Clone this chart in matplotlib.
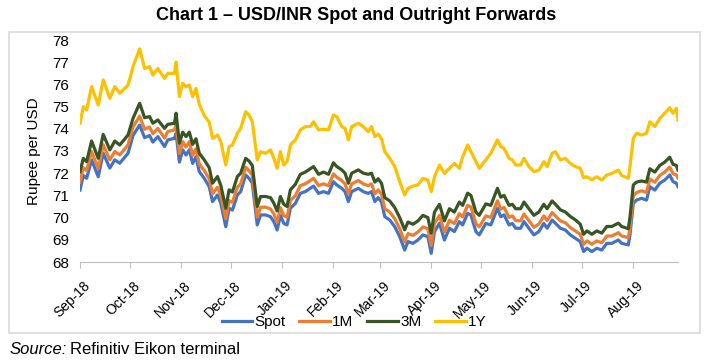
import matplotlib
matplotlib.use("Agg")
import matplotlib.pyplot as plt
import matplotlib.transforms as mtransforms
from matplotlib.patches import Rectangle
import pandas as pd

plt.rcParams['font.family'] = ['Liberation Sans', 'DejaVu Sans']

dates = ["2018-09-03","2018-09-05","2018-09-07","2018-09-10","2018-09-14","2018-09-17","2018-09-21","2018-09-24","2018-09-27",
 "2018-10-02","2018-10-05","2018-10-09","2018-10-12","2018-10-15","2018-10-17","2018-10-20","2018-10-24","2018-10-26","2018-10-30","2018-10-31",
 "2018-11-02","2018-11-04","2018-11-06","2018-11-08","2018-11-10","2018-11-12","2018-11-14","2018-11-17","2018-11-20","2018-11-22","2018-11-25","2018-11-27","2018-11-30",
 "2018-12-02","2018-12-04","2018-12-07","2018-12-09","2018-12-12","2018-12-14","2018-12-16","2018-12-19","2018-12-21","2018-12-24","2018-12-27","2018-12-29","2018-12-31",
 "2019-01-02","2019-01-04","2019-01-06","2019-01-08","2019-01-11","2019-01-14","2019-01-17","2019-01-20","2019-01-22","2019-01-25","2019-01-28","2019-01-31",
 "2019-02-03","2019-02-05","2019-02-08","2019-02-10","2019-02-12","2019-02-14","2019-02-18","2019-02-21","2019-02-24","2019-02-26","2019-02-28",
 "2019-03-02","2019-03-04","2019-03-06","2019-03-09","2019-03-12","2019-03-15","2019-03-18","2019-03-20","2019-03-23","2019-03-26","2019-03-29",
 "2019-04-01","2019-04-03","2019-04-05","2019-04-08","2019-04-11","2019-04-14","2019-04-17","2019-04-20","2019-04-22","2019-04-25","2019-04-27","2019-04-30",
 "2019-05-02","2019-05-06","2019-05-09","2019-05-13","2019-05-15","2019-05-17","2019-05-20","2019-05-22","2019-05-24","2019-05-27","2019-05-29",
 "2019-06-01","2019-06-04","2019-06-07","2019-06-10","2019-06-12","2019-06-15","2019-06-17","2019-06-20","2019-06-23","2019-06-26","2019-06-29",
 "2019-07-02","2019-07-04","2019-07-06","2019-07-09","2019-07-12","2019-07-15","2019-07-18","2019-07-21","2019-07-25","2019-07-27","2019-07-31",
 "2019-08-01","2019-08-03","2019-08-05","2019-08-08","2019-08-11","2019-08-13","2019-08-16","2019-08-19","2019-08-22","2019-08-25","2019-08-27","2019-08-29","2019-08-30"]

spot = [71.24,71.90,71.77,72.60,71.84,72.90,72.23,72.60,72.45,
 72.90,73.70,74.17,73.60,73.70,73.40,73.65,73.20,73.50,73.57,73.80,
 72.50,73.05,72.82,73.05,72.44,72.74,72.07,71.77,71.40,70.72,71.02,70.64,69.59,
 70.42,70.34,71.02,71.17,71.92,71.77,71.55,69.67,70.12,70.12,70.04,69.82,69.44,
 70.10,69.74,69.67,70.42,70.64,71.09,71.17,71.32,71.42,71.09,71.17,71.09,
 71.62,71.47,71.32,71.17,70.72,71.17,71.32,71.17,71.09,71.17,70.72,
 70.90,70.70,70.04,69.89,69.59,69.14,68.54,68.92,68.84,68.99,69.22,
 69.14,68.39,69.37,69.74,68.99,69.52,69.37,69.82,69.67,70.19,70.12,69.37,
 69.22,69.74,69.67,70.42,70.04,70.12,69.67,69.74,69.52,69.52,69.82,
 69.52,69.22,69.37,69.74,69.52,69.89,69.74,69.52,69.44,69.22,69.07,
 68.92,68.47,68.62,68.47,68.62,68.54,68.84,68.84,68.99,68.84,68.77,
 69.22,70.64,70.79,70.87,70.79,71.39,71.24,71.55,71.69,71.92,71.62,71.55,71.39]

m1 = [71.60,72.25,72.12,72.98,72.20,73.28,72.60,72.98,72.82,
 73.28,74.08,74.57,73.98,74.08,73.78,74.02,73.58,73.88,73.95,74.20,
 72.88,73.42,73.18,73.42,72.80,73.10,72.42,72.12,71.75,71.07,71.37,70.99,69.94,
 70.77,70.69,71.37,71.52,72.27,72.12,71.90,70.02,70.47,70.47,70.39,70.17,69.79,
 70.45,70.09,70.02,70.77,70.99,71.44,71.52,71.67,71.77,71.44,71.52,71.44,
 71.97,71.82,71.67,71.52,71.07,71.52,71.67,71.52,71.44,71.52,71.07,
 71.25,71.05,70.40,70.25,69.95,69.50,68.90,69.28,69.20,69.35,69.58,
 69.50,68.75,69.73,70.10,69.35,69.88,69.73,70.18,70.03,70.55,70.48,69.73,
 69.58,70.08,70.01,70.76,70.38,70.46,70.01,70.08,69.86,69.86,70.16,
 69.86,69.56,69.71,70.08,69.86,70.23,70.08,69.85,69.77,69.55,69.40,
 69.25,68.80,68.95,68.80,68.95,68.87,69.17,69.17,69.32,69.17,69.10,
 69.55,70.98,71.13,71.21,71.13,71.74,71.59,71.90,72.05,72.28,71.98,71.92,71.78]

m3 = [72.07,72.67,72.52,73.45,72.67,73.75,73.05,73.45,73.27,
 73.72,74.47,75.15,74.50,74.55,74.25,74.40,74.02,74.20,74.25,74.70,
 73.35,73.85,73.65,73.85,73.30,73.55,72.90,72.60,72.25,71.55,71.85,71.45,70.42,
 71.25,71.15,71.85,72.00,72.67,72.55,72.35,70.50,70.95,70.95,70.90,70.65,70.30,
 70.95,70.60,70.50,71.25,71.50,71.95,72.05,72.20,72.30,71.95,72.05,71.95,
 72.47,72.30,72.15,72.00,71.55,72.00,72.15,72.00,71.95,72.00,71.60,
 71.75,71.55,70.90,70.75,70.45,70.00,69.45,69.80,69.70,69.85,70.10,
 70.00,69.30,70.25,70.60,69.85,70.40,70.25,70.70,70.55,71.10,71.00,70.25,
 70.10,70.62,70.55,71.32,70.92,71.00,70.55,70.60,70.40,70.40,70.70,
 70.40,70.10,70.25,70.60,70.40,70.75,70.60,70.35,70.25,70.05,69.90,
 69.70,69.25,69.40,69.25,69.40,69.30,69.60,69.60,69.75,69.60,69.50,
 70.00,71.47,71.60,71.65,71.60,72.20,72.05,72.35,72.50,72.72,72.40,72.35,72.14]

y1 = [74.25,75.00,74.85,75.90,75.07,76.20,75.37,75.90,75.60,
 75.97,76.80,77.60,76.72,76.80,76.42,76.72,76.27,76.50,76.50,77.00,
 75.45,76.05,75.90,75.97,75.45,75.82,75.10,74.60,74.30,73.57,73.72,73.42,72.37,
 73.20,73.27,73.80,74.02,74.77,74.62,74.32,72.60,72.97,72.90,73.05,72.67,72.22,
 72.97,72.37,72.52,73.27,73.50,73.95,74.10,74.10,74.32,73.95,73.98,73.95,
 74.62,74.55,74.10,74.02,73.50,74.10,74.25,74.10,73.87,74.10,73.65,
 73.76,73.55,72.97,72.67,72.30,71.62,71.02,71.32,71.42,71.47,71.77,
 71.69,71.17,71.84,72.37,71.99,72.22,72.44,72.22,72.74,73.27,72.97,72.52,
 72.22,72.60,72.90,73.50,73.20,73.12,72.67,72.60,72.37,72.37,72.67,
 72.30,72.07,72.14,72.52,72.30,72.90,72.97,72.60,72.67,72.44,72.30,
 72.22,71.80,71.84,71.70,71.84,71.69,71.92,71.99,72.14,71.90,71.77,
 72.30,73.57,73.80,73.72,73.80,74.32,74.10,74.47,74.70,74.95,74.70,74.92,74.40]

series_names = ["Spot", "1M", "3M", "1Y"]
colors = ["#4472C4", "#ED7D31", "#375623", "#FFC000"]
tick_labels = ["Sep-18","Oct-18","Nov-18","Dec-18","Jan-19","Feb-19","Mar-19","Apr-19","May-19","Jun-19","Jul-19","Aug-19"]
tick_dates = ["2018-09-03","2018-10-03","2018-11-03","2018-12-03","2019-01-03","2019-02-03","2019-03-03",
              "2019-04-03","2019-05-03","2019-06-03","2019-07-03","2019-08-03"]

x = pd.to_datetime(dates)

fig = plt.figure(figsize=(7.07, 3.62), dpi=100)
fig.patches.append(Rectangle((8.7/707, 1-332.7/362), (700-8.7)/707, (332.7-31.5)/362,
                             transform=fig.transFigure, fill=False, edgecolor="#D9D9D9", linewidth=1.2))
ax = fig.add_axes([80/707, 1-262/362, (678-80)/707, (262-40)/362])

for vals, name, c in zip([spot, m1, m3, y1], series_names, colors):
    ax.plot(x, vals, color=c, lw=2.3, label=name, solid_joinstyle="round")

ax.set_ylim(68, 78)
ax.set_yticks(range(68, 79))
ax.set_xlim(pd.Timestamp("2018-09-03"), pd.Timestamp("2019-08-30"))
ax.set_xticks(pd.to_datetime(tick_dates))
ax.set_xticklabels(tick_labels, rotation=45, ha="right", rotation_mode="anchor", fontsize=10)
ax.tick_params(axis="y", length=0, labelsize=11, pad=8)
ax.tick_params(axis="x", length=4, color="#BFBFBF", pad=8)
shift = mtransforms.ScaledTranslation(3/100, 0, fig.dpi_scale_trans)
for lab in ax.get_xticklabels():
    lab.set_transform(lab.get_transform() + shift)
for s in ["top", "right", "left"]:
    ax.spines[s].set_visible(False)
ax.spines["bottom"].set_color("#BFBFBF")
ax.set_ylabel("Rupee per USD", fontsize=11, labelpad=8)

fig.text(356/707, 1-16/362, "Chart 1 \u2013 USD/INR Spot and Outright Forwards", ha="center", va="center",
         fontsize=13, fontweight="bold")

fig.legend(loc="center", bbox_to_anchor=(354/707, 1-322/362), ncol=4, frameon=False, fontsize=11,
           handlelength=2.0, handletextpad=0.15, columnspacing=0.9, borderaxespad=0)

t1 = fig.text(10/707, 1-349/362, "Source:", ha="left", va="center", fontsize=12, style="italic")
fig.canvas.draw()
bb = t1.get_window_extent()
fig.text(bb.x1/fig.bbox.width + 3/707, 1-349/362, "Refinitiv Eikon terminal", ha="left", va="center", fontsize=12)

fig.savefig("out.png", dpi=100)
